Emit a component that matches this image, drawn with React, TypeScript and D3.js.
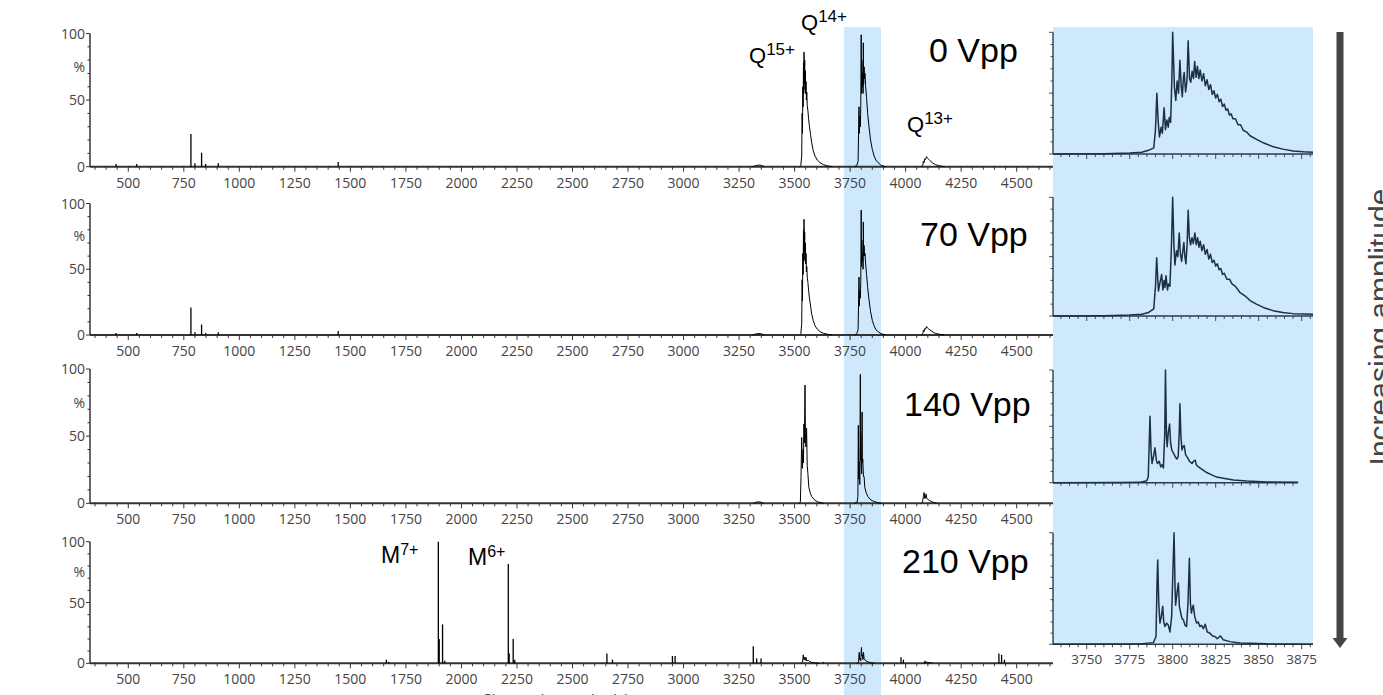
import React from "react";
import * as d3 from "d3";

type Pt = [number, number];

// ---------- tick labels / categories ----------
const mainXTicks = [500, 750, 1000, 1250, 1500, 1750, 2000, 2250, 2500, 2750, 3000, 3250, 3500, 3750, 4000, 4250, 4500];
const insetXTicks = [3750, 3775, 3800, 3825, 3850, 3875];
const yTickLabels: { v: number; t: string }[] = [
  { v: 0, t: "0" },
  { v: 50, t: "50" },
  { v: 75, t: "%" },
  { v: 100, t: "100" },
];
const amplitudes = ["0 Vpp", "70 Vpp", "140 Vpp", "210 Vpp"];
const highlightRange: Pt = [3722, 3889];
const mainDomain: Pt = [327.6, 4663.5];
const insetDomain: Pt = [3730.4, 3881.6];

// ---------- 0 Vpp ----------
const sticks0: Pt[] = [[445, 2], [538, 2], [782, 24.5], [800, 2.5], [830, 10.5], [848, 2], [905, 2.5], [1445, 3.5]];
const minor0: Pt[] = [[3310, 0], [3330, 1], [3345, 1.2], [3365, 0]];
const q15_0: Pt[] = [[3522, 0], [3528, 1], [3532, 8], [3534, 40], [3535.5, 25], [3537, 60], [3538.5, 45], [3540, 78], [3541.5, 55], [3542.5, 86], [3544, 62], [3545.5, 80], [3547, 58], [3548.5, 72], [3550, 55], [3551.5, 64], [3553, 50], [3555, 56], [3557, 46], [3560, 42], [3563, 36], [3567, 30], [3572, 24], [3577, 18], [3584, 12], [3592, 8], [3602, 5], [3615, 3], [3630, 1.5], [3650, 0.5], [3670, 0]];
const q14_0: Pt[] = [[3770, 0], [3780, 1], [3786, 4], [3790, 45], [3791.5, 25], [3794, 38], [3796, 30], [3798, 45], [3800, 99], [3801.5, 55], [3803, 80], [3805, 60], [3807, 70], [3808.5, 55], [3809.5, 93], [3811, 62], [3813, 75], [3815, 66], [3817, 70], [3820, 60], [3824, 52], [3829, 40], [3835, 30], [3842, 20], [3850, 13], [3858, 8], [3866, 5], [3876, 3], [3890, 1], [3910, 0]];
const q13_0: Pt[] = [[4070, 0], [4077, 1], [4080, 4], [4083, 3], [4086, 6], [4090, 5.5], [4094, 7.5], [4098, 6.5], [4104, 5.5], [4110, 4.5], [4120, 3], [4135, 1.5], [4150, 0.7], [4175, 0]];

// ---------- 70 Vpp ----------
const sticks70: Pt[] = [[445, 1.5], [538, 1.5], [782, 21], [800, 2], [830, 8], [848, 1.5], [905, 2], [1445, 3]];
const minor70: Pt[] = [[3310, 0], [3330, 1], [3345, 1.1], [3365, 0]];
const q15_70: Pt[] = [[3522, 0], [3528, 1], [3532, 8], [3534, 42], [3535.5, 26], [3537, 62], [3538.5, 46], [3540, 80], [3541.5, 56], [3542.5, 88], [3544, 63], [3545.5, 78], [3547, 57], [3548.5, 70], [3550, 54], [3551.5, 62], [3553, 48], [3555, 52], [3557, 44], [3560, 40], [3563, 34], [3567, 28], [3572, 22], [3577, 16], [3584, 11], [3592, 7], [3602, 4.5], [3615, 2.5], [3630, 1.3], [3650, 0.5], [3670, 0]];
const q14_70: Pt[] = [[3770, 0], [3780, 1], [3786, 4], [3790, 44], [3791.5, 22], [3794, 34], [3796, 28], [3798, 40], [3800, 95], [3801.5, 52], [3803, 72], [3805, 56], [3807, 62], [3808.5, 50], [3809.5, 86], [3811, 60], [3813, 68], [3815, 60], [3817, 62], [3820, 54], [3824, 46], [3829, 36], [3835, 27], [3842, 18], [3850, 11], [3858, 7], [3866, 4], [3876, 2.5], [3890, 1], [3910, 0]];
const q13_70: Pt[] = [[4070, 0], [4077, 1], [4080, 3.5], [4083, 2.5], [4086, 5], [4090, 4.5], [4094, 6.5], [4098, 5.5], [4104, 4.5], [4110, 3.8], [4120, 2.5], [4135, 1.2], [4150, 0.6], [4175, 0]];

// ---------- 140 Vpp ----------
const sticks140: Pt[] = [];
const minor140: Pt[] = [[3315, 0], [3330, 1], [3345, 1], [3360, 0]];
const q15_140: Pt[] = [[3520, 0], [3526, 1], [3529, 20], [3532, 49], [3535, 26], [3538, 40], [3540, 30], [3542, 59], [3544, 45], [3547, 88], [3549, 47], [3551, 42], [3554, 56], [3557, 28], [3560, 22], [3564, 12], [3570, 8], [3577, 5], [3590, 2.5], [3605, 1], [3630, 0]];
const q14_140: Pt[] = [[3770, 0], [3782, 1], [3785, 5], [3787, 58], [3789, 18], [3790, 31], [3792, 17], [3794, 14], [3796, 96], [3797, 32], [3798, 52], [3800, 29], [3802, 22], [3804, 68], [3805, 30], [3807, 33], [3810, 20], [3813, 20], [3816, 12], [3822, 8], [3830, 5], [3840, 3], [3855, 1.5], [3875, 0.5], [3890, 0]];
const q13_140: Pt[] = [[4070, 0], [4076, 1], [4080, 5], [4083, 8], [4086, 3.5], [4089, 4], [4092, 7], [4095, 3.5], [4100, 3], [4108, 2], [4120, 1], [4140, 0]];

// ---------- 210 Vpp ----------
const sticks210: Pt[] = [[1662, 3], [1672, 1.2], [1896, 100], [1900, 20], [1915, 32], [1925, 2], [2211, 81.6], [2215, 8], [2233, 20], [2240, 3], [2655, 8], [2680, 3], [2950, 6], [2962, 6], [3314, 14], [3329, 4], [3349, 4], [3629, 1], [3979, 5], [3990, 3], [4087, 2], [4100, 1], [4420, 8], [4432, 7], [4445, 3]];
const minor210: Pt[] = [[4080, 0], [4090, 1], [4105, 0.6], [4120, 0]];
const q15_210: Pt[] = [[3530, 0], [3536, 1], [3539, 7], [3542, 3], [3545, 5], [3548, 2.5], [3551, 5], [3555, 2], [3562, 2.5], [3570, 1], [3590, 0.4], [3610, 0]];
const q14_210: Pt[] = [[3780, 0], [3788, 1], [3791, 9], [3793, 3], [3795, 4], [3798, 2], [3801, 13], [3803, 6], [3806, 7], [3808, 3], [3810, 9], [3813, 4], [3818, 2.5], [3825, 1.5], [3840, 0.6], [3860, 0]];

// ---------- insets (Q14+ zoom) ----------
const inset0: Pt[] = [[3730.4, 0], [3760, 0.3], [3775, 0.8], [3782, 1.5], [3786, 3], [3789, 5], [3790, 20], [3790.8, 50], [3791.5, 28], [3792.3, 14], [3793.3, 22], [3794, 17], [3795, 38], [3795.8, 20], [3796.6, 28], [3797.4, 22], [3798, 30], [3798.8, 26], [3799.5, 60], [3800, 100], [3801, 55], [3801.8, 44], [3802.6, 60], [3803.4, 50], [3804.2, 77], [3805, 55], [3805.6, 47], [3806.2, 62], [3806.7, 67], [3807.5, 51], [3808.3, 60], [3809, 93], [3809.8, 62], [3810.5, 59], [3811.3, 68], [3812.1, 62], [3812.8, 76], [3813.6, 63], [3814.4, 72], [3815.2, 62], [3816, 69], [3817, 60], [3818, 66], [3819, 56], [3820, 61], [3821, 53], [3822, 57], [3823, 49], [3824, 52], [3825, 46], [3826, 49], [3827, 43], [3828, 45], [3829, 39], [3830, 41], [3831, 36], [3832, 37], [3833, 32], [3834, 33], [3835, 29], [3836.5, 29], [3838, 24], [3839.5, 24], [3841, 19.5], [3843, 18], [3845, 15], [3848.8, 12], [3853, 9], [3858.5, 6], [3864, 4], [3870, 2.5], [3876, 1.8], [3881.6, 1.4]];
const inset70: Pt[] = [[3730.4, 0], [3760, 0.3], [3775, 0.8], [3782, 1.5], [3786, 3], [3789, 6], [3790, 25], [3790.7, 49], [3791.7, 21], [3792.6, 28], [3793.6, 35], [3794.3, 22], [3795, 30], [3795.5, 24], [3796.1, 34], [3797, 22], [3797.5, 27], [3798.4, 25], [3799.3, 60], [3800, 100], [3800.7, 60], [3801.3, 43], [3802.2, 55], [3803, 50], [3803.8, 70], [3804.5, 52], [3805.2, 46], [3805.9, 55], [3806.5, 62], [3807.1, 50], [3807.7, 44], [3808.4, 60], [3809, 89], [3809.7, 66], [3810.4, 60], [3811.2, 66], [3812, 61], [3812.9, 70], [3813.7, 60], [3814.5, 66], [3815.3, 58], [3816, 63], [3817, 55], [3818, 60], [3819, 52], [3820, 56], [3821, 48], [3822, 52], [3823, 45], [3824, 47], [3825, 42], [3826, 44], [3827, 39], [3828, 40], [3829, 35], [3830, 36], [3831.5, 31], [3833, 31], [3834.5, 27], [3836.5, 25], [3839, 20], [3842, 17], [3845, 13], [3848.7, 10], [3853, 7], [3858.4, 4.5], [3864, 3], [3870, 2], [3876, 1.7], [3881.6, 1.5]];
const inset140: Pt[] = [[3730.4, 0], [3770, 0.2], [3781, 0.3], [3784.9, 1.8], [3785.8, 5], [3786.8, 59], [3787.4, 29], [3788, 17], [3788.8, 23], [3789.7, 31], [3790.5, 20], [3791.1, 17], [3792.2, 19], [3793, 14], [3793.8, 16], [3794.6, 13], [3795.4, 44], [3795.8, 100], [3796.4, 41], [3796.8, 32], [3797.4, 44], [3798.2, 52], [3798.8, 35], [3799.5, 29], [3800.5, 26], [3801.5, 23], [3802.4, 21], [3803.2, 23], [3803.8, 44], [3804.2, 70], [3804.8, 41], [3805.4, 29], [3806, 32], [3806.7, 33], [3807.5, 25], [3808.7, 22], [3809.8, 19], [3811.2, 17], [3812.1, 19], [3813.1, 20], [3813.7, 16], [3815, 14], [3816, 13], [3817.9, 11], [3819.8, 9], [3822.7, 7], [3825.6, 5], [3829.5, 4], [3835.3, 2.4], [3843, 1.5], [3854.7, 0.6], [3873, 0.3]];
const inset210: Pt[] = [[3730.4, 0], [3770, 0.2], [3781, 0.3], [3788.8, 1.5], [3790.3, 7], [3790.9, 55], [3791.3, 75.5], [3791.9, 37], [3792.6, 19], [3793.4, 25], [3794.2, 34], [3794.8, 20], [3795.5, 16], [3796.5, 19], [3797.5, 17], [3798.4, 11], [3799.4, 25], [3800.2, 70], [3800.8, 100], [3801.4, 49], [3801.7, 35], [3802.5, 46], [3803.3, 55], [3803.9, 34], [3804.7, 28], [3805.4, 23], [3806.2, 22], [3807.2, 17], [3808.1, 16], [3808.9, 37], [3809.7, 77], [3810.3, 37], [3810.9, 28], [3811.4, 32], [3812, 35], [3812.8, 25], [3813.9, 19], [3814.9, 20], [3815.8, 16], [3816.8, 17], [3817.8, 14], [3818.9, 18], [3820.1, 11], [3821.6, 10], [3823.2, 7.5], [3824.5, 7], [3825.9, 5], [3827.8, 7.5], [3829.4, 4], [3833.3, 2.4], [3839.1, 1.2], [3854.6, 0.4], [3881.6, 0]];

// ---------- layout ----------
const MAIN_LEFT = 90;
const MAIN_RIGHT = 1053;
const mainPanels = [
  { top: 33.5, bottom: 166.7, sticks: sticks0, profiles: [minor0, q15_0, q14_0, q13_0], lx: 929, ly: 62 },
  { top: 203.5, bottom: 335, sticks: sticks70, profiles: [minor70, q15_70, q14_70, q13_70], lx: 920, ly: 246 },
  { top: 369, bottom: 503.3, sticks: sticks140, profiles: [minor140, q15_140, q14_140, q13_140], lx: 904, ly: 416 },
  { top: 541.7, bottom: 663.3, sticks: sticks210, profiles: [minor210, q15_210, q14_210], lx: 902, ly: 573 },
];
const INSET_LEFT = 1053;
const insetPanels = [
  { top: 32.3, bottom: 154, right: 1313, data: inset0, labels: false },
  { top: 197.3, bottom: 316, right: 1313, data: inset70, labels: false },
  { top: 370, bottom: 482.7, right: 1298, data: inset140, labels: false },
  { top: 532.7, bottom: 644.3, right: 1313, data: inset210, labels: true },
];

const tickFont = "'Open Sans', 'Noto Sans', sans-serif";
const annFont = "'Liberation Sans', Arial, sans-serif";
const axisColor = "#333";
const insetColor = "#2c3d4a";
const blue = "#cde9fb";

function MainPanel(p: typeof mainPanels[number] & { label: string }) {
  const x = d3.scaleLinear().domain(mainDomain).range([MAIN_LEFT, MAIN_RIGHT]);
  const y = d3.scaleLinear().domain([0, 100]).range([p.bottom, p.top]);
  const line = d3.line<Pt>().x((d) => x(d[0])).y((d) => y(d[1]));
  const minorX = d3.range(350, 4651, 50);
  const yTicks = d3.range(0, 101, 10);
  return (
    <g>
      <line x1={MAIN_LEFT} x2={MAIN_RIGHT} y1={p.bottom} y2={p.bottom} stroke={axisColor} strokeWidth={2} />
      {minorX.map((v) => (
        <line key={v} x1={x(v)} x2={x(v)} y1={p.bottom} y2={p.bottom + (v % 250 === 0 ? 5 : 3)} stroke={axisColor} strokeWidth={1} />
      ))}
      {mainXTicks.map((v) => (
        <text key={v} x={x(v)} y={p.bottom + 21} textAnchor="middle" fontFamily={tickFont} fontSize={14} fill="#444">
          {v}
        </text>
      ))}
      <line x1={MAIN_LEFT} x2={MAIN_LEFT} y1={p.top} y2={p.bottom} stroke={axisColor} strokeWidth={1.5} />
      {yTicks.map((v) => (
        <line key={v} x1={MAIN_LEFT - (v % 50 === 0 ? 4 : 2.5)} x2={MAIN_LEFT} y1={y(v)} y2={y(v)} stroke={axisColor} strokeWidth={1} />
      ))}
      {yTickLabels.map((t) => (
        <text key={t.t} x={MAIN_LEFT - 5} y={y(t.v) + 5} textAnchor="end" fontFamily={tickFont} fontSize={14} fill="#444">
          {t.t}
        </text>
      ))}
      {p.sticks.map((s, i) => (
        <line key={i} x1={x(s[0])} x2={x(s[0])} y1={y(0)} y2={y(s[1])} stroke="#000" strokeWidth={1.3} />
      ))}
      {p.profiles.map((pr, i) => (
        <path key={i} d={line(pr) || ""} fill="none" stroke="#000" strokeWidth={1} strokeLinejoin="round" />
      ))}
      <text x={p.lx} y={p.ly} fontFamily={annFont} fontSize={34} fill="#000">
        {p.label}
      </text>
    </g>
  );
}

function InsetPanel(p: typeof insetPanels[number]) {
  const x = d3.scaleLinear().domain(insetDomain).range([INSET_LEFT, 1313]);
  const y = d3.scaleLinear().domain([0, 100]).range([p.bottom, p.top]);
  const line = d3.line<Pt>().x((d) => x(d[0])).y((d) => y(d[1]));
  const minorX = d3.range(3735, 3881, 5).filter((v) => x(v) <= p.right);
  const yTicks = d3.range(0, 101, 10);
  return (
    <g>
      <line x1={INSET_LEFT} x2={p.right} y1={p.bottom} y2={p.bottom} stroke={insetColor} strokeWidth={1.6} />
      {minorX.map((v) => (
        <line key={v} x1={x(v)} x2={x(v)} y1={p.bottom} y2={p.bottom + (v % 25 === 0 ? 5 : 3)} stroke={insetColor} strokeWidth={0.9} />
      ))}
      <line x1={INSET_LEFT} x2={INSET_LEFT} y1={p.top} y2={p.bottom} stroke={insetColor} strokeWidth={1.4} />
      {yTicks.map((v) => (
        <line key={v} x1={INSET_LEFT - (v % 50 === 0 ? 4 : 2.5)} x2={INSET_LEFT} y1={y(v)} y2={y(v)} stroke={insetColor} strokeWidth={0.9} />
      ))}
      <path d={line(p.data) || ""} fill="none" stroke="#1b3142" strokeWidth={1.5} strokeLinejoin="round" />
      {p.labels &&
        insetXTicks.map((v) => (
          <text key={v} x={x(v)} y={p.bottom + 20} textAnchor="middle" fontFamily={tickFont} fontSize={13.5} fill="#444">
            {v}
          </text>
        ))}
    </g>
  );
}

export default function App() {
  const xMain = d3.scaleLinear().domain(mainDomain).range([MAIN_LEFT, MAIN_RIGHT]);
  const bandX0 = xMain(highlightRange[0]);
  const bandX1 = xMain(highlightRange[1]);
  return (
    <svg width={1383} height={695} style={{ position: "fixed", left: 0, top: 0, background: "#fff" }}>
      <rect x={0} y={0} width={1383} height={695} fill="#fff" />
      <rect x={bandX0} y={27} width={bandX1 - bandX0} height={668} fill={blue} />
      {mainPanels.map((p, i) => (
        <MainPanel key={i} {...p} label={amplitudes[i]} />
      ))}
      <g fontFamily={annFont} fill="#000">
        <text x={749} y={63} fontSize={22}>
          Q<tspan dy={-8} fontSize={17}>15+</tspan>
        </text>
        <text x={801} y={30} fontSize={22}>
          Q<tspan dy={-8} fontSize={17}>14+</tspan>
        </text>
        <text x={907} y={132} fontSize={22}>
          Q<tspan dy={-8} fontSize={17}>13+</tspan>
        </text>
        <text x={381} y={563} fontSize={23}>
          M<tspan dy={-8} fontSize={16}>7+</tspan>
        </text>
        <text x={468} y={565} fontSize={23}>
          M<tspan dy={-8} fontSize={16}>6+</tspan>
        </text>
      </g>
      <rect x={INSET_LEFT} y={27} width={1313 - INSET_LEFT} height={618} fill={blue} />
      {insetPanels.map((p, i) => (
        <InsetPanel key={i} {...p} />
      ))}
      <rect x={1336.5} y={32} width={7} height={607} fill="#444" />
      <path d="M1332.5,638 L1347.5,638 L1340,648 Z" fill="#444" />
      <text transform="translate(1390,327) rotate(-90)" textAnchor="middle" fontFamily={annFont} fontSize={30} fill="#444">
        Increasing amplitude
      </text>
      <text x={555} y={706} textAnchor="middle" fontFamily={tickFont} fontSize={17} fill="#444">
        Charge/mass (m/z)
      </text>
    </svg>
  );
}
